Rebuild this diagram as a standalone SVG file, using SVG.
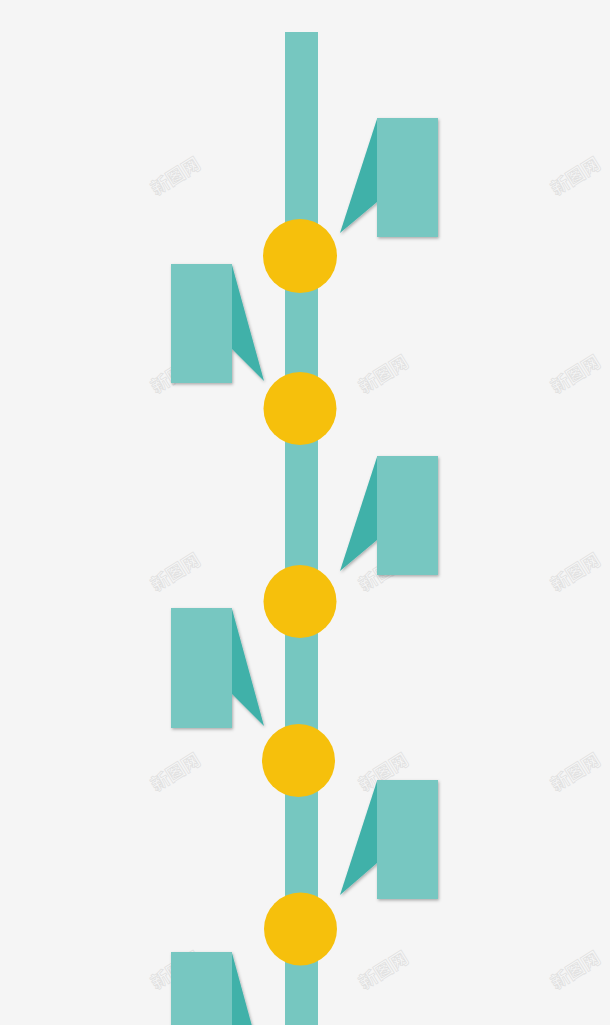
<svg xmlns="http://www.w3.org/2000/svg" width="610" height="1025" viewBox="0 0 610 1025">
<style>
.bar{fill:#76c7c0}
.dot{fill:#f6c00c}
.card{fill:#77c7c1}
.fold{fill:#3fb1a9}
.wm{font-family:"Noto Sans CJK SC","Noto Sans",sans-serif;font-size:18px;font-weight:bold;fill:#f7f7f7;stroke:#e0e0e0;stroke-width:0.7}
</style>
<defs>
<filter id="sh" x="-20%" y="-20%" width="140%" height="140%">
<feDropShadow dx="1" dy="1.5" stdDeviation="1.5" flood-color="#000" flood-opacity="0.3"/>
</filter>
</defs>
<rect width="610" height="1025" fill="#f5f5f5"/>
<g id="watermarks">
<text class="wm" transform="translate(156,196) rotate(-32)">新图网</text>
<text class="wm" transform="translate(364,196) rotate(-32)">新图网</text>
<text class="wm" transform="translate(556,196) rotate(-32)">新图网</text>
<text class="wm" transform="translate(156,394) rotate(-32)">新图网</text>
<text class="wm" transform="translate(364,394) rotate(-32)">新图网</text>
<text class="wm" transform="translate(556,394) rotate(-32)">新图网</text>
<text class="wm" transform="translate(156,592) rotate(-32)">新图网</text>
<text class="wm" transform="translate(364,592) rotate(-32)">新图网</text>
<text class="wm" transform="translate(556,592) rotate(-32)">新图网</text>
<text class="wm" transform="translate(156,792) rotate(-32)">新图网</text>
<text class="wm" transform="translate(364,792) rotate(-32)">新图网</text>
<text class="wm" transform="translate(556,792) rotate(-32)">新图网</text>
<text class="wm" transform="translate(156,990) rotate(-32)">新图网</text>
<text class="wm" transform="translate(364,990) rotate(-32)">新图网</text>
<text class="wm" transform="translate(556,990) rotate(-32)">新图网</text>
</g>
<g id="connectors">
<rect class="bar" x="285" y="32" width="33" height="993"/>
</g>
<g id="card-r1" filter="url(#sh)">
<polygon class="fold" points="377,119 340,233 377,202"/>
<rect class="card" x="377" y="118" width="61" height="119"/>
</g>
<g id="card-l1" filter="url(#sh)">
<polygon class="fold" points="232,265 264,381 232,349"/>
<rect class="card" x="171" y="264" width="61" height="119"/>
</g>
<g id="card-r2" filter="url(#sh)">
<polygon class="fold" points="377,457 340,571 377,540"/>
<rect class="card" x="377" y="456" width="61" height="119"/>
</g>
<g id="card-l2" filter="url(#sh)">
<polygon class="fold" points="232,609 264,726 232,694"/>
<rect class="card" x="171" y="608" width="61" height="120"/>
</g>
<g id="card-r3" filter="url(#sh)">
<polygon class="fold" points="377,781 340,895 377,863"/>
<rect class="card" x="377" y="780" width="61" height="119"/>
</g>
<g id="card-l3" filter="url(#sh)">
<polygon class="fold" points="232,953 264,1070 232,1038"/>
<rect class="card" x="171" y="952" width="61" height="120"/>
</g>
<g id="dot1"><circle class="dot" cx="300" cy="256" r="37"/></g>
<g id="dot2"><circle class="dot" cx="300" cy="408.5" r="36.5"/></g>
<g id="dot3"><circle class="dot" cx="300" cy="601.5" r="36.5"/></g>
<g id="dot4"><circle class="dot" cx="298.5" cy="760.5" r="36.5"/></g>
<g id="dot5"><circle class="dot" cx="300.5" cy="929" r="36.5"/></g>
</svg>
